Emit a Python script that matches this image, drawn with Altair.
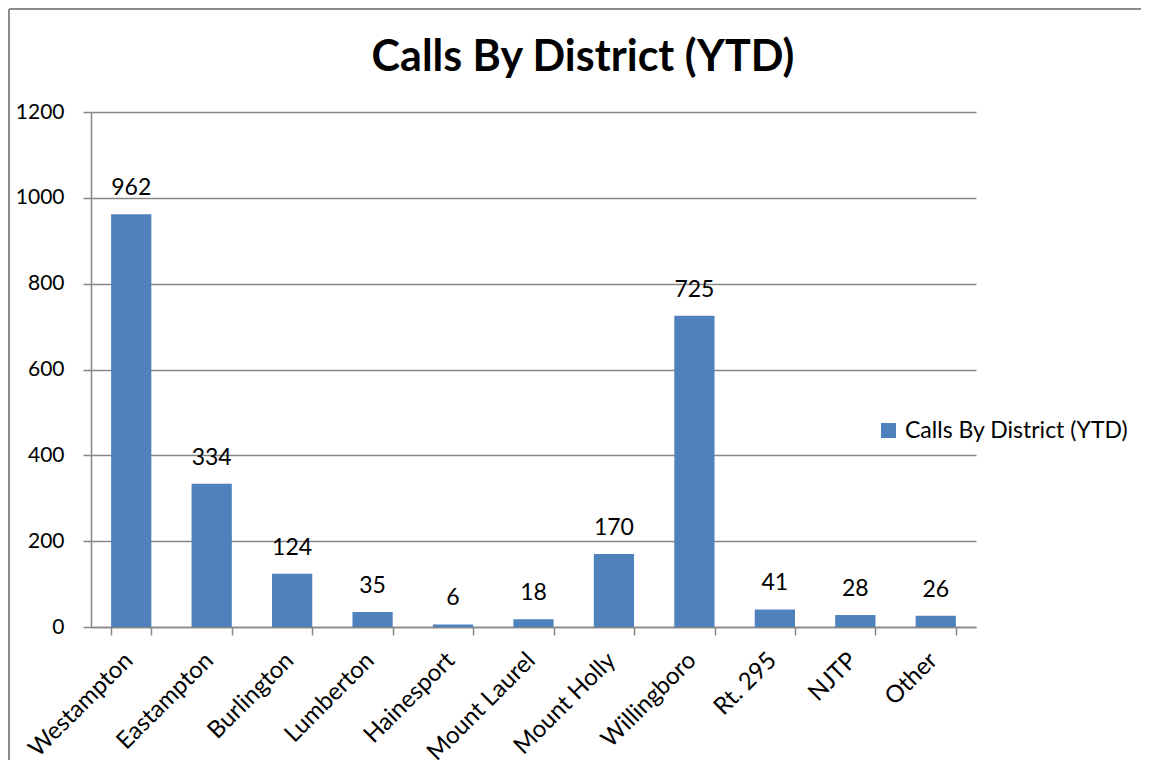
import altair as alt
import pandas as pd

districts = ["Westampton", "Eastampton", "Burlington", "Lumberton", "Hainesport",
             "Mount Laurel", "Mount Holly", "Willingboro", "Rt. 295", "NJTP", "Other"]
calls = [962, 334, 124, 35, 6, 18, 170, 725, 41, 28, 26]
series_name = "Calls By District (YTD)"
y_ticks = [0, 200, 400, 600, 800, 1000, 1200]

df = pd.DataFrame({"district": districts, "calls": calls,
                   "series": [series_name] * len(districts)})

FONT = "Lato"
GRAY = "#868686"
BLUE = "#4F81BD"

x_enc = alt.X(
    "district:N", sort=districts, title=None,
    scale=alt.Scale(paddingInner=0.5, paddingOuter=0.25),
    axis=alt.Axis(labelAngle=-45, labelFontSize=24, labelFont=FONT, labelColor="black",
                  domainColor=GRAY, domainWidth=1.5, tickColor=GRAY, tickWidth=1.5,
                  tickSize=8, tickBand="extent", labelPadding=30, labelLimit=0,
                  labelBaseline="bottom", labelAlign="right", labelOffset=6),
)
y_enc = alt.Y(
    "calls:Q", title=None,
    scale=alt.Scale(domain=[0, 1200], nice=False),
    axis=alt.Axis(values=y_ticks, format="d", grid=True, gridColor=GRAY, gridWidth=1.5,
                  domainColor=GRAY, domainWidth=1.5, tickColor=GRAY, tickWidth=1.5,
                  tickSize=8, labelPadding=19, labelFontSize=21, labelFont=FONT,
                  labelColor="black"),
)

bars = alt.Chart(df).mark_bar().encode(
    x=x_enc, y=y_enc,
    color=alt.Color("series:N", scale=alt.Scale(range=[BLUE]),
                    legend=alt.Legend(title=None, orient="none", legendX=786, legendY=307,
                                      symbolType="square", symbolSize=225,
                                      symbolStrokeWidth=0, labelFontSize=23,
                                      labelFont=FONT, labelColor="black", labelOffset=5,
                                      labelLimit=0)),
)

labels = alt.Chart(df).mark_text(baseline="alphabetic", dy=-19, fontSize=23,
                                 font=FONT, color="black").encode(
    x=alt.X("district:N", sort=districts),
    y=alt.Y("calls:Q"),
    text="calls:Q",
)

single = alt.Data(values=[{"k": 1}])
title_text = alt.Chart(single).mark_text(
    fontSize=43, font=FONT, fontWeight="bold", color="black",
    baseline="alphabetic", align="center",
).encode(x=alt.value(492), y=alt.value(-41), text=alt.value(series_name))

frame_left = alt.Chart(single).mark_rule(color="#8c8c8c", strokeWidth=2).encode(
    x=alt.value(-82), y=alt.value(-103), y2=alt.value(648))
frame_top = alt.Chart(single).mark_rule(color="#8c8c8c", strokeWidth=2).encode(
    x=alt.value(-82), x2=alt.value(1050), y=alt.value(-103))

chart = alt.layer(bars, labels, title_text, frame_left, frame_top).properties(
    width=885, height=515, padding=0,
).configure_view(stroke="transparent")

chart.save("out.html", embed_options={"renderer": "svg", "actions": False})
